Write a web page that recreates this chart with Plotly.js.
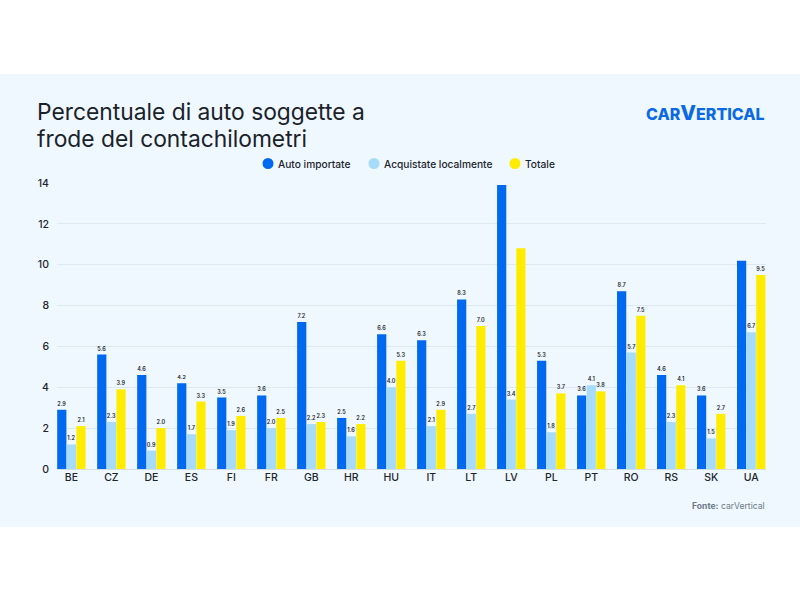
<!DOCTYPE html>
<html>
<head>
<meta charset="utf-8">
<script src="https://cdn.plot.ly/plotly-3.0.0.min.js"></script>
<style>html,body{margin:0;padding:0;background:#fff}#chart{width:800px;height:600px}</style>
</head>
<body>
<div id="chart"></div>
<script>
const categories = ["BE","CZ","DE","ES","FI","FR","GB","HR","HU","IT","LT","LV","PL","PT","RO","RS","SK","UA"];
const importedValues = [2.9,5.6,4.6,4.2,3.5,3.6,7.2,2.5,6.6,6.3,8.3,13.9,5.3,3.6,8.7,4.6,3.6,10.2];
const localValues = [1.2,2.3,0.9,1.7,1.9,2.0,2.2,1.6,4.0,2.1,2.7,3.4,1.8,4.1,5.7,2.3,1.5,6.7];
const totalValues = [2.1,3.9,2.0,3.3,2.6,2.5,2.3,2.2,5.3,2.9,7.0,10.8,3.7,3.8,7.5,4.1,2.7,9.5];
const seriesNames = ["Auto importate","Acquistate localmente","Totale"];
const seriesColors = ["#0069ef","#a6dcf9","#ffec00"];
const unlabelledImported = ["LV","UA"];
const unlabelledTotal = ["LV"];
const titleLines = ["Percentuale di auto soggette a","frode del contachilometri"];

const W = 800, H = 600;
const M = {l:57, r:34, t:183, b:131};
const px = x => (x - M.l) / (W - M.l - M.r);
const py = y => 1 - (y - M.t) / (H - M.t - M.b);

function labels(vals, skip){
  return vals.map((v,i) => skip.includes(categories[i]) ? "" : v.toFixed(1));
}
function bar(i, vals, skip){
  return {
    type:"bar", name:seriesNames[i], x:categories, y:vals,
    marker:{color:seriesColors[i]},
    text:labels(vals, skip), textposition:"outside", cliponaxis:false,
    textfont:{family:"Inter, sans-serif", size:5.5, weight:600, color:"#1c252c"},
    showlegend:false, hoverinfo:"x+y+name"
  };
}
const data = [bar(0,importedValues,unlabelledImported), bar(1,localValues,[]), bar(2,totalValues,unlabelledTotal)];

const legendCircleX = [268,374,515];
const legendTextX = [278,384,525];
const legendY = 163.5;

const shapes = [{
  type:"rect", xref:"paper", yref:"paper", layer:"below",
  x0:px(0), x1:px(W), y0:py(527), y1:py(74),
  fillcolor:"#eff8fe", line:{width:0}
}];
legendCircleX.forEach((cx,i)=>{
  shapes.push({type:"circle", xref:"paper", yref:"paper",
    x0:px(cx-5.5), x1:px(cx+5.5), y0:py(legendY+5.5), y1:py(legendY-5.5),
    fillcolor:seriesColors[i], line:{width:0}});
});

const font = "Inter, sans-serif";
const annotations = seriesNames.map((n,i)=>({
  text:n, xref:"paper", yref:"paper", x:px(legendTextX[i]), y:py(legendY),
  xanchor:"left", yanchor:"middle", showarrow:false, xshift:-2,
  font:{family:font, size:10.2, weight:500, color:"#1c252c"}
}));
annotations.push({
  text:titleLines[1], xref:"paper", yref:"paper", x:px(37), y:py(138.5),
  xanchor:"left", yanchor:"middle", showarrow:false, xshift:-2,
  font:{family:font, size:22.8, color:"#1a2229"}
});
annotations.push({
  text:'CAR<span style="font-size:20.5px">V</span>ERTICAL', xref:"paper", yref:"paper", x:px(767), y:py(113),
  xanchor:"right", yanchor:"middle", showarrow:false,
  font:{family:font, size:16, weight:800, color:"#0b69e4"}
});
annotations.push({
  text:"<b>Fonte:</b> carVertical", xref:"paper", yref:"paper", x:px(767), y:py(506),
  xanchor:"right", yanchor:"middle", showarrow:false,
  font:{family:font, size:8.6, color:"#6d7a84"}
});

const layout = {
  width:W, height:H, autosize:false, showlegend:false,
  paper_bgcolor:"#ffffff", plot_bgcolor:"rgba(0,0,0,0)",
  margin:{l:M.l, r:M.r, t:M.t, b:M.b, pad:0},
  barmode:"group", bargap:0.28, bargroupgap:0.04,
  title:{text:titleLines[0],
    x:37/W, xanchor:"left", xref:"container", y:1-112/H, yanchor:"middle",
    font:{family:font, size:22.8, color:"#1a2229"}},
  xaxis:{type:"category", categoryorder:"array", categoryarray:categories,
    range:[-0.36,17.37], showgrid:false, showline:false, zeroline:false,
    ticks:"", ticklen:0, tickfont:{family:font, size:10.5, weight:500, color:"#1c252c"}},
  yaxis:{range:[0,14], tickvals:[0,2,4,6,8,10,12,14], showgrid:true,
    gridcolor:"#dce9f3", gridwidth:1, zeroline:true, zerolinecolor:"#d3dee8", zerolinewidth:1,
    showline:false, ticks:"", ticklabelstandoff:7,
    tickfont:{family:font, size:10.5, weight:500, color:"#1c252c"}},
  shapes:shapes, annotations:annotations
};
Plotly.newPlot("chart", data, layout, {displayModeBar:false, responsive:false});
</script>
</body>
</html>
